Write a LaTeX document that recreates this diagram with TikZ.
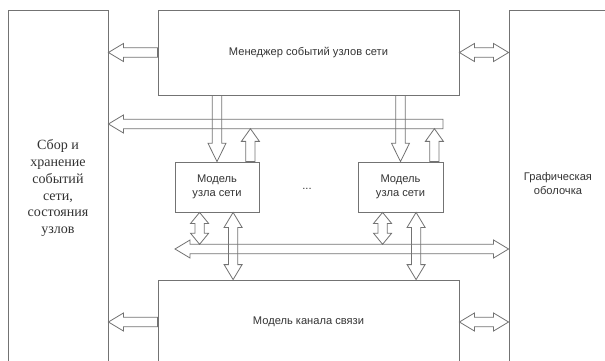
\documentclass[tikz,border=0pt]{standalone}
\usepackage{fontspec}
\setmainfont{Liberation Serif}
\setsansfont{Liberation Sans}
\usetikzlibrary{calc}
\colorlet{linegray}{black!55}
\colorlet{textgray}{black!80}

\begin{document}
\begin{tikzpicture}[x=0.03cm, y=-0.03cm,
    box/.style={draw=linegray, line width=0.7pt, inner sep=0pt, text=textgray},
    lbl/.style={font=\sffamily\fontsize{9.5}{11.6}\selectfont, text=textgray, align=center},
    arr/.style={draw=linegray, line width=0.7pt},
    onehead/.style={arr, to path={let \p1=(\tikztostart), \p2=(\tikztotarget), \p4=($(\p2)!#1!(\p1)$) in
        ($(\p1)!0.14cm!90:(\p2)$) -- ($(\p4)!0.14cm!-90:(\p1)$) -- ($(\p4)!0.27cm!-90:(\p1)$) -- (\p2)
        -- ($(\p4)!0.27cm!90:(\p1)$) -- ($(\p4)!0.14cm!90:(\p1)$) -- ($(\p1)!0.14cm!-90:(\p2)$) -- cycle}},
    onehead/.default=0.45cm,
    twohead/.style={arr, to path={let \p1=(\tikztostart), \p2=(\tikztotarget), \p3=($(\p1)!#1!(\p2)$), \p4=($(\p2)!#1!(\p1)$) in
        (\p1) -- ($(\p3)!0.27cm!90:(\p2)$) -- ($(\p3)!0.14cm!90:(\p2)$) -- ($(\p4)!0.14cm!-90:(\p1)$)
        -- ($(\p4)!0.27cm!-90:(\p1)$) -- (\p2) -- ($(\p4)!0.27cm!90:(\p1)$) -- ($(\p4)!0.14cm!90:(\p1)$)
        -- ($(\p3)!0.14cm!-90:(\p2)$) -- ($(\p3)!0.27cm!-90:(\p2)$) -- cycle}},
    twohead/.default=0.45cm]
    \useasboundingbox (0,0) rectangle (605,361);

    % blocks
    \node[box, minimum width=3cm, minimum height=10.68cm, align=center,
        font=\fontsize{12}{14.5}\selectfont] (store) at (58,188)
        {Сбор и\\хранение\\событий\\сети,\\состояния\\узлов};
    \node[box, lbl, minimum width=9.03cm, minimum height=2.55cm] (mgr) at (308.5,52.5) {Менеджер событий узлов сети};
    \node[box, minimum width=3.33cm, minimum height=10.68cm] (gui) at (564.5,188) {};
    \node[lbl] (guitext) at (558,183.5) {Графическая\\оболочка};
    \node[box, lbl, minimum width=9.03cm, minimum height=2.52cm] (chan) at (308.5,322) {Модель канала связи};
    \node[box, lbl, minimum width=2.52cm, minimum height=1.5cm] (node1) at (217,187) {Модель\\узла сети};
    \node[box, lbl, minimum width=2.55cm, minimum height=1.5cm] (node2) at (400.5,187) {Модель\\узла сети};
    \node[lbl] (dots) at (307,189) {...};

    % buses
    \coordinate (topbus) at (443,124);
    \coordinate (topedge) at (443,128.7);
    \coordinate (lowbus) at (175,249);
    \coordinate (lowedge) at (175,244.3);
    \draw[onehead] (topbus) to (topbus -| store.east);
    \draw[twohead] (lowbus) to (lowbus -| gui.west);

    % manager and channel to side blocks
    \draw[onehead] (mgr.west) to (mgr.west -| store.east);
    \draw[twohead] (mgr.east) to (mgr.east -| gui.west);
    \draw[onehead] (chan.west) to (chan.west -| store.east);
    \draw[twohead] (chan.east) to (chan.east -| gui.west);

    % node models
    \foreach \m in {node1, node2} {
        \coordinate (up-\m) at ($(\m.north east)+(-9,0)$);
        \coordinate (lk-\m) at ($(\m.south west)+(25,0)$);
        \coordinate (ch-\m) at ($(\m.south west)+(58.5,0)$);
        \draw[onehead=0.55cm] (\m.north |- mgr.south) to (\m.north);
        \draw[onehead=0.38cm] (up-\m) to (up-\m |- topedge);
        \draw[twohead=0.33cm] (lk-\m) to (lk-\m |- lowedge);
        \draw[twohead] (ch-\m) to (ch-\m |- chan.north);
    }
\end{tikzpicture}
\end{document}
